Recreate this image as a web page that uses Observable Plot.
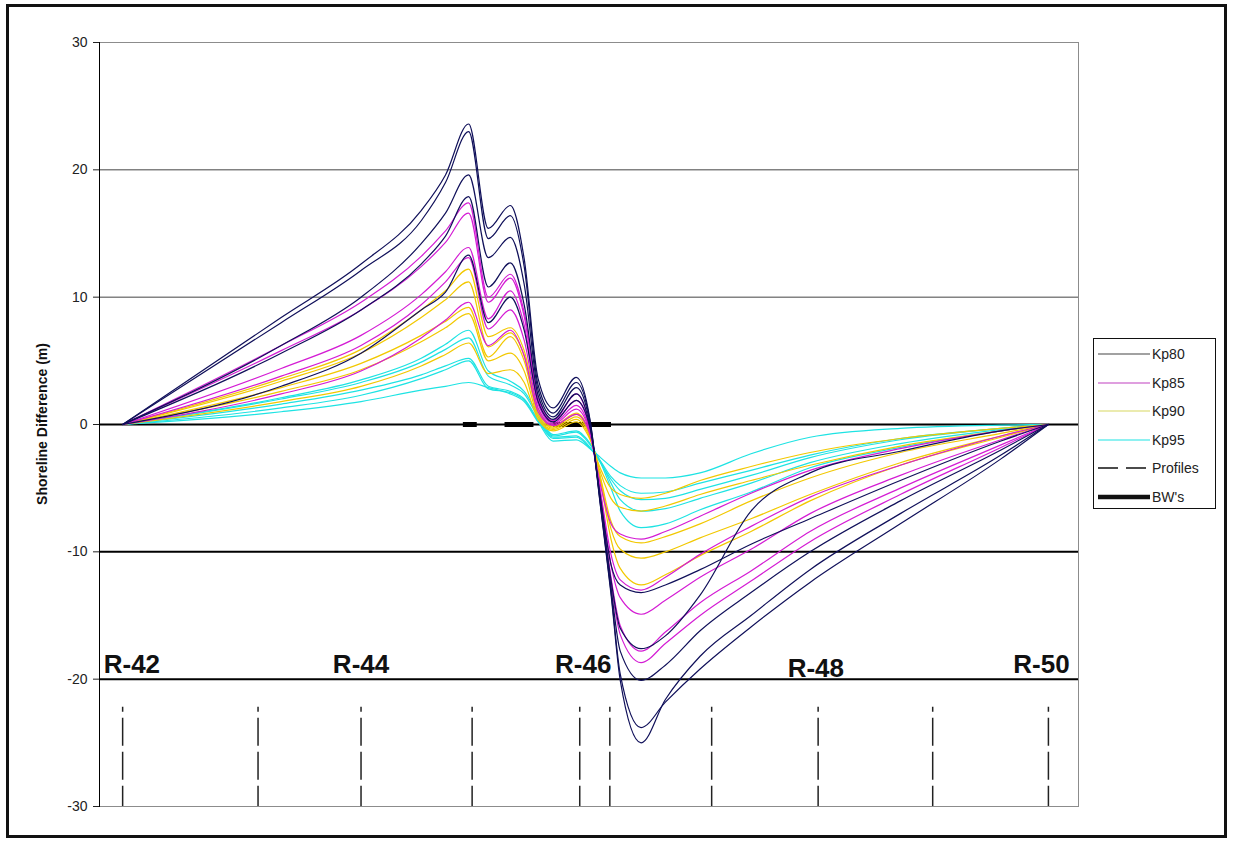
<!DOCTYPE html>
<html><head><meta charset="utf-8">
<script src="https://cdn.jsdelivr.net/npm/d3@7"></script>
<script src="https://cdn.jsdelivr.net/npm/@observablehq/plot@0.6"></script>
<style>
body{margin:0;background:#fff;font-family:"Liberation Sans",Arial,sans-serif;}
#wrap{position:relative;width:1240px;height:843px;overflow:hidden;}
#border{position:absolute;left:6px;top:4px;width:1221px;height:834px;border:3px solid #111;box-sizing:border-box;}
#chart{position:absolute;left:0;top:0;}
#ytitle{position:absolute;left:42px;top:424px;transform:translate(-50%,-50%) rotate(-90deg);font-weight:bold;font-size:14px;color:#111;white-space:nowrap;}
#legend{position:absolute;left:1093px;top:338px;width:123px;height:171px;border:1.5px solid #111;box-sizing:border-box;background:#fff;}
.lrow{position:absolute;left:4px;height:20px;display:flex;align-items:center;font-size:14px;color:#222;}
.lrow svg{margin-right:2px;}
</style></head>
<body><div id="wrap"><div id="chart"></div><div id="border"></div><div id="ytitle">Shoreline Difference (m)</div><div id="legend"></div></div>
<script>
// Alongshore position (profile station units, R-42 .. R-50)
const stations = [42.00, 43.37, 44.06, 44.58, 44.79, 44.99, 45.16, 45.35, 45.47, 45.59, 45.72, 45.92, 46.04, 46.13, 46.22, 46.30, 46.48, 46.69, 46.99, 47.43, 47.94, 48.72, 49.59, 50.00];

// Shoreline difference (m) per run
const kp80 = [
  [0, 8.4, 12.6, 16.8, 19.6, 23.6, 15.4, 17.2, 13.0, 3.6, 1.3, 3.7, 0.3, -6.5, -13.3, -20.1, -25.0, -21.6, -18.2, -15.0, -11.4, -7.0, -2.4, 0],
  [0, 8.0, 12.1, 16.0, 19.0, 23.0, 14.6, 16.4, 12.4, 3.1, 0.9, 3.3, 0.2, -6.4, -13.1, -19.6, -23.8, -21.8, -19.2, -15.9, -12.4, -7.8, -2.7, 0],
  [0, 6.2, 10.0, 14.2, 16.6, 19.6, 13.1, 14.7, 11.0, 2.7, 0.6, 2.9, 0.0, -6.2, -12.8, -17.8, -20.1, -18.9, -16.2, -13.2, -10.0, -6.0, -2.0, 0],
  [0, 5.6, 9.0, 12.6, 14.8, 17.9, 10.8, 12.7, 9.4, 2.3, 0.4, 2.4, -0.2, -6.0, -12.2, -16.0, -17.6, -16.6, -13.4, -6.8, -3.8, -2.1, -0.5, 0],
  [0, 3.0, 5.6, 9.0, 10.4, 13.3, 8.0, 10.0, 7.4, 1.8, 0.2, 1.9, -0.3, -5.8, -11.0, -12.6, -13.2, -12.6, -11.4, -9.4, -7.4, -4.4, -1.3, 0]
];
const kp85 = [
  [0, 6.2, 9.6, 13.2, 15.2, 17.4, 10.0, 11.8, 8.8, 2.1, 0.3, 2.4, -0.4, -6.0, -12.5, -16.5, -18.7, -17.2, -15.0, -12.3, -9.2, -5.5, -1.8, 0],
  [0, 5.8, 9.0, 12.4, 14.3, 16.6, 9.6, 11.5, 8.5, 1.9, 0.2, 1.9, -0.5, -5.8, -12.0, -15.8, -17.8, -16.3, -14.0, -11.5, -8.4, -5.0, -1.6, 0],
  [0, 4.4, 7.0, 10.2, 12.0, 13.9, 8.3, 10.5, 7.8, 1.6, 0.1, 1.5, -0.6, -5.5, -11.0, -13.6, -14.9, -13.8, -12.0, -9.8, -7.0, -4.0, -1.2, 0],
  [0, 3.8, 6.2, 9.4, 11.2, 13.1, 7.5, 9.0, 6.6, 1.3, 0.0, 1.2, -0.7, -5.3, -10.2, -12.2, -13.0, -12.0, -10.2, -8.0, -5.7, -3.2, -0.9, 0],
  [0, 2.4, 4.2, 6.8, 8.2, 9.6, 6.2, 7.4, 5.4, 1.0, -0.1, 0.8, -0.8, -4.8, -7.8, -8.6, -9.0, -8.4, -7.2, -5.4, -3.6, -1.9, -0.5, 0]
];
const kp90 = [
  [0, 3.6, 5.9, 9.0, 10.5, 12.2, 6.9, 7.6, 5.8, 1.2, -0.1, 0.9, -0.8, -4.5, -9.0, -11.3, -12.6, -11.8, -10.3, -8.4, -6.0, -3.2, -1.0, 0],
  [0, 3.4, 5.6, 8.4, 9.8, 11.2, 6.1, 7.2, 5.4, 1.0, -0.2, 0.8, -0.9, -4.3, -8.2, -9.8, -10.5, -10.0, -8.9, -7.4, -5.5, -3.0, -0.9, 0],
  [0, 2.9, 4.8, 7.0, 8.1, 9.2, 5.3, 6.9, 5.0, 0.8, -0.3, 0.6, -1.0, -4.2, -7.6, -8.8, -9.3, -8.8, -7.8, -6.0, -4.2, -2.2, -0.7, 0],
  [0, 2.6, 4.3, 6.5, 7.6, 8.7, 5.0, 5.6, 4.2, 0.6, -0.4, 0.4, -1.1, -3.8, -5.8, -6.5, -6.8, -6.4, -5.5, -4.4, -3.2, -1.7, -0.5, 0],
  [0, 1.8, 3.0, 4.6, 5.5, 6.4, 4.0, 4.3, 3.3, 0.4, -0.5, 0.2, -1.2, -3.5, -5.0, -5.5, -5.8, -5.4, -4.4, -3.3, -2.2, -1.1, -0.3, 0]
];
const kp95 = [
  [0, 2.1, 3.5, 5.2, 6.3, 7.4, 4.2, 3.4, 2.6, 0.8, -0.8, -0.5, -1.5, -3.0, -5.0, -6.8, -8.1, -7.8, -6.7, -5.3, -3.4, -1.8, -0.5, 0],
  [0, 2.0, 3.3, 4.9, 5.9, 6.8, 3.8, 3.1, 2.4, 0.6, -0.9, -0.6, -1.6, -2.9, -4.6, -5.9, -6.8, -6.6, -5.8, -4.6, -3.0, -1.5, -0.4, 0],
  [0, 1.6, 2.7, 3.9, 4.6, 5.2, 3.0, 2.6, 2.0, 0.4, -1.0, -0.9, -1.8, -3.0, -4.3, -5.2, -5.9, -5.8, -5.1, -4.0, -2.6, -1.2, -0.3, 0],
  [0, 1.3, 2.3, 3.6, 4.3, 5.0, 2.8, 2.5, 1.9, 0.3, -1.1, -1.0, -1.9, -2.9, -4.1, -4.8, -5.4, -5.3, -4.6, -3.6, -2.4, -1.1, -0.3, 0],
  [0, 1.0, 1.8, 2.7, 3.0, 3.3, 2.9, 2.4, 1.8, 0.2, -1.3, -1.2, -1.9, -2.6, -3.3, -3.8, -4.2, -4.2, -3.8, -2.3, -1.0, -0.3, -0.05, 0]
];

const seriesNames = ["Kp80", "Kp85", "Kp90", "Kp95"];
const seriesColors = ["#10105a", "#d41cd4", "#f2c800", "#1ee3e3"];
const legendColors = ["#444444", "#c040c0", "#d8d860", "#1ee3e3"];

// Profile lines (station positions)
const profiles = [42.00, 43.17, 44.06, 45.02, 45.95, 46.21, 47.09, 48.01, 49.00, 50.00];
const profileTop = -22.2;
const profileBottom = -30;
// Breakwaters (station extents along the 0 line)
const bwStart = [44.94, 45.30, 45.72];
const bwEnd   = [45.06, 45.55, 46.22];
// Monument labels
const rLabels = ["R-42", "R-44", "R-46", "R-48", "R-50"];
const rLabelX = [42.08, 44.06, 45.98, 47.99, 49.94];
const rLabelY = [-18.9, -18.9, -18.9, -19.2, -18.9];

const yTicks = [30, 20, 10, 0, -10, -20, -30];
const gridThin = [20, 10];
const gridBold = [0, -10, -20];
const xDomain = [41.80, 50.26];

function rowsFor(group, arr) {
  const out = [];
  arr.forEach((vals, j) => vals.forEach((v, i) => out.push({station: stations[i], value: v, id: group + "-" + j})));
  return out;
}
const groups = [kp80, kp85, kp90, kp95];
const bw = bwStart.map((s, i) => ({x1: s, x2: bwEnd[i]}));
const labels = rLabels.map((t, i) => ({text: t, x: rLabelX[i], y: rLabelY[i]}));

const lineMarks = [3, 2, 1, 0].map(g =>
  Plot.line(rowsFor(seriesNames[g], groups[g]), {x: "station", y: "value", z: "id", stroke: seriesColors[g], strokeWidth: 1.2, curve: "monotone-x"})
);

const chart = Plot.plot({
  width: 1240, height: 843,
  marginLeft: 99, marginRight: 162, marginTop: 42, marginBottom: 37,
  x: {domain: xDomain, axis: null},
  y: {domain: [-30, 30], axis: null},
  style: {fontFamily: "'Liberation Sans', Arial, sans-serif", background: "transparent", overflow: "visible"},
  marks: [
    Plot.frame({stroke: "#8c8c8c", strokeWidth: 1}),
    Plot.ruleY(gridThin, {stroke: "#444", strokeWidth: 1}),
    Plot.ruleY(gridBold, {stroke: "#000", strokeWidth: 2}),
    Plot.frame({anchor: "left", stroke: "#000", strokeWidth: 1}),
    Plot.axisY({ticks: yTicks, tickSize: 6, tickPadding: 6, fontSize: 14, label: null, color: "#222", tickFormat: d => String(d).replace("−", "-")}),
    Plot.ruleX(profiles, {y1: profileTop, y2: profileBottom, stroke: "#222", strokeWidth: 1.5, strokeDasharray: "28,6", strokeDashoffset: 23}),
    Plot.link(bw, {x1: "x1", x2: "x2", y1: 0, y2: 0, stroke: "#000", strokeWidth: 5}),
    ...lineMarks,
    Plot.text(labels, {x: "x", y: "y", text: "text", fontSize: 26, fontWeight: "bold", fill: "#111"})
  ]
});
document.getElementById("chart").appendChild(chart);

// Legend
const legend = document.getElementById("legend");
const legendItems = [
  ...seriesNames.map((n, i) => ({name: n, stroke: legendColors[i], width: 1.2, dash: null})),
  {name: "Profiles", stroke: "#111", width: 1.5, dash: "20,8"},
  {name: "BW's", stroke: "#111", width: 4.5, dash: null}
];
legendItems.forEach((it, i) => {
  const row = document.createElement("div");
  row.className = "lrow";
  row.style.top = (5 + i * 28.5) + "px";
  row.innerHTML = `<svg width="52" height="10"><line x1="0" y1="5" x2="52" y2="5" stroke="${it.stroke}" stroke-width="${it.width}" ${it.dash ? `stroke-dasharray="${it.dash}"` : ""}/></svg><span>${it.name}</span>`;
  legend.appendChild(row);
});
</script></body></html>
